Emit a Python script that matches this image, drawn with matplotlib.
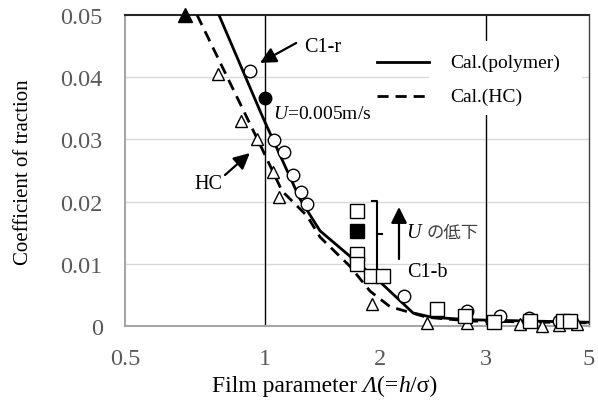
import matplotlib
matplotlib.use("Agg")
import matplotlib.pyplot as plt
from matplotlib.patches import Rectangle
from matplotlib.lines import Line2D
from matplotlib.offsetbox import TextArea, HPacker, AnnotationBbox

plt.rcParams['font.family'] = ['Liberation Serif', 'Noto Sans CJK JP']
plt.rcParams['mathtext.fontset'] = 'custom'
plt.rcParams['mathtext.rm'] = 'Liberation Serif'
plt.rcParams['mathtext.it'] = 'Liberation Serif:italic'

# --- data (x: film parameter, y: coefficient of traction) ---
circ_x = [0.930, 1.047, 1.101, 1.151, 1.198, 1.234, 1.997, 2.730, 3.216, 3.713, 4.31]
circ_y = [0.0410, 0.0299, 0.0280, 0.0243, 0.0215, 0.0196, 0.0048, 0.0024, 0.0016, 0.0013, 0.0008]
circ_f_x = [1.0]
circ_f_y = [0.0367]

tri_x = [0.793, 0.889, 0.963, 1.042, 1.074, 1.703, 2.238, 2.730, 3.549, 3.960, 4.31, 4.711]
tri_y = [0.0405, 0.0330, 0.0301, 0.0248, 0.0207, 0.0035, 0.0005, 0.0005, 0.0003, 0.0000, 0.0002, 0.0003]
tri_f_x = [0.673]
tri_f_y = [0.0500]

sq_x = [1.581, 1.581, 1.581, 1.695, 1.799, 2.352, 2.703, 3.122, 3.731, 4.395, 4.55]
sq_y = [0.0185, 0.0116, 0.0100, 0.0080, 0.0080, 0.0027, 0.0016, 0.0006, 0.0008, 0.0008, 0.0008]
sq_f_x = [1.581]
sq_f_y = [0.0153]

poly_x = [0.797, 0.99, 1.192, 1.316, 1.550, 1.772, 2.088, 2.294, 2.770, 3.731, 5.0]
poly_y = [0.0500, 0.0336, 0.0204, 0.0153, 0.0108, 0.0071, 0.0021, 0.0014, 0.0010, 0.0008, 0.0006]

hc_x = [0.715, 0.987, 1.090, 1.234, 1.316, 1.527, 1.687, 1.863, 2.238, 2.770, 5.0]
hc_y = [0.0500, 0.0285, 0.0217, 0.0177, 0.0143, 0.0096, 0.0056, 0.0031, 0.0014, 0.0008, 0.0005]

xtick_vals = [0.5, 1, 1.77, 3, 5]
xtick_labels = ['0.5', '1', '2', '3', '5']
ytick_vals = [0, 0.01, 0.02, 0.03, 0.04, 0.05]
ytick_labels = ['0', '0.01', '0.02', '0.03', '0.04', '0.05']

fig = plt.figure(figsize=(5.98, 4.06), dpi=100)
ax = fig.add_axes([125/598, 79/406, 464/598, 311/406])
ax.set_xscale('log')
ax.set_xlim(0.5, 5)
ax.set_ylim(0, 0.05)

# grid
for yv in ytick_vals[1:-1]:
    ax.axhline(yv, color='#d9d9d9', lw=1.0, zorder=0)
for xv in [1, 3]:
    ax.axvline(xv, color='black', lw=1.0, zorder=1)

dash = (0, (4, 2.5))
# lines
ax.plot(poly_x, poly_y, color='black', lw=2.0, zorder=3)
ax.plot(hc_x, hc_y, color='black', lw=2.0, ls=dash, zorder=3)

ms = 9
mk = dict(mec='black', mew=1.0, ls='none', zorder=4, clip_on=False)
ax.plot(circ_x, circ_y, 'o', mfc='white', ms=ms, **mk)
ax.plot(circ_f_x, circ_f_y, 'o', mfc='black', ms=ms, **mk)
ax.plot(tri_x, tri_y, '^', mfc='white', ms=ms, **mk)
ax.plot(tri_f_x, tri_f_y, '^', mfc='black', ms=10.5, **mk)
ax.plot(sq_x, sq_y, 's', mfc='white', ms=9.5, **mk)
ax.plot(sq_f_x, sq_f_y, 's', mfc='black', ms=9.5, **mk)

# ticks
ax.set_xticks(xtick_vals)
ax.set_xticklabels(xtick_labels)
ax.xaxis.set_minor_locator(matplotlib.ticker.FixedLocator([1.77]))
ax.xaxis.set_minor_formatter(matplotlib.ticker.NullFormatter())
ax.tick_params(axis='x', which='minor', direction='inout', length=9, width=1.5, color='black')
ax.set_yticks(ytick_vals)
ax.set_yticklabels(ytick_labels)
ax.tick_params(axis='both', which='major', length=0, labelsize=17.5, labelcolor='#595959')
ax.tick_params(axis='y', which='major', pad=16)
ax.tick_params(axis='x', which='major', pad=16)

for s in ['left', 'bottom']:
    ax.spines[s].set_color('#a6a6a6')
    ax.spines[s].set_linewidth(1.5)
ax.spines['top'].set_color('#262626')
ax.spines['top'].set_linewidth(1.5)
ax.spines['right'].set_color('#404040')
ax.spines['right'].set_linewidth(1.0)

# legend (handles + white text box)
ax.add_patch(Rectangle((0.656, 0.680), 0.328, 0.235, transform=ax.transAxes,
                       facecolor='white', edgecolor='none', zorder=2))
ax.add_line(Line2D([0.543, 0.655], [0.849, 0.849], transform=ax.transAxes, color='black', lw=2.0, zorder=5))
ax.add_line(Line2D([0.543, 0.655], [0.740, 0.740], transform=ax.transAxes, color='black', lw=2.0,
                   ls=dash, zorder=5))
ax.text(0.70, 0.849, 'Cal.(polymer)', transform=ax.transAxes, fontsize=14, va='center', ha='left', zorder=6)
ax.text(0.70, 0.740, 'Cal.(HC)', transform=ax.transAxes, fontsize=14, va='center', ha='left', zorder=6)

# annotations
arr = dict(arrowstyle='-|>', mutation_scale=24, lw=1.6, color='black', shrinkA=0, shrinkB=0)
ax.annotate('', xy=(0.291, 0.846), xytext=(0.369, 0.910), xycoords='axes fraction',
            textcoords='axes fraction', arrowprops=arr, zorder=6)
ax.text(0.385, 0.900, 'C1-r', transform=ax.transAxes, fontsize=14.5, va='center', ha='left')
ax.annotate('', xy=(0.269, 0.556), xytext=(0.2155, 0.4855), xycoords='axes fraction',
            textcoords='axes fraction', arrowprops=arr, zorder=6)
ax.text(0.179, 0.457, 'HC', transform=ax.transAxes, fontsize=14.5, va='center', ha='center')
ax.text(0.320, 0.682, '$U$=0.005m/s', transform=ax.transAxes, fontsize=14, va='center', ha='left')

ax.annotate('', xy=(0.5905, 0.3826), xytext=(0.5905, 0.2154), xycoords='axes fraction',
            textcoords='axes fraction', arrowprops=arr, zorder=6)
ax.text(0.606, 0.302, 'U', transform=ax.transAxes, fontsize=14.5, va='center', ha='left',
        style='italic')
ax.text(0.650, 0.302, 'の低下', transform=ax.transAxes, fontsize=12.5, va='center', ha='left',
        family=['Noto Sans CJK JP'], color='#404040')
ax.text(0.608, 0.174, 'C1-b', transform=ax.transAxes, fontsize=14.5, va='center', ha='left')

# bracket
ax.add_line(Line2D([0.532, 0.543, 0.543], [0.402, 0.402, 0.183], transform=ax.transAxes,
                   color='black', lw=1.5, zorder=5))
ax.add_line(Line2D([0.543, 0.554], [0.296, 0.296], transform=ax.transAxes,
                   color='black', lw=1.5, zorder=5))

# x label with italic pieces
xl_fs = 17
parts = [('Film parameter ', 'normal'), ('Λ', 'italic'), ('(=', 'normal'),
         ('h', 'italic'), ('/σ)', 'normal')]
areas = [TextArea(t, textprops=dict(fontsize=xl_fs, style=st, family='Liberation Serif'))
         for t, st in parts]
box = HPacker(children=areas, align='baseline', pad=0, sep=0)
ab = AnnotationBbox(box, (325/598, 1 - 386/406), xycoords='figure fraction',
                    box_alignment=(0.5, 0.5), frameon=False, pad=0, annotation_clip=False)
ax.add_artist(ab)

fig.text(24/598, 1 - 172/406, 'Coefficient of traction', fontsize=15, rotation=90,
         ha='center', va='center')

fig.savefig('out.png', dpi=100)
